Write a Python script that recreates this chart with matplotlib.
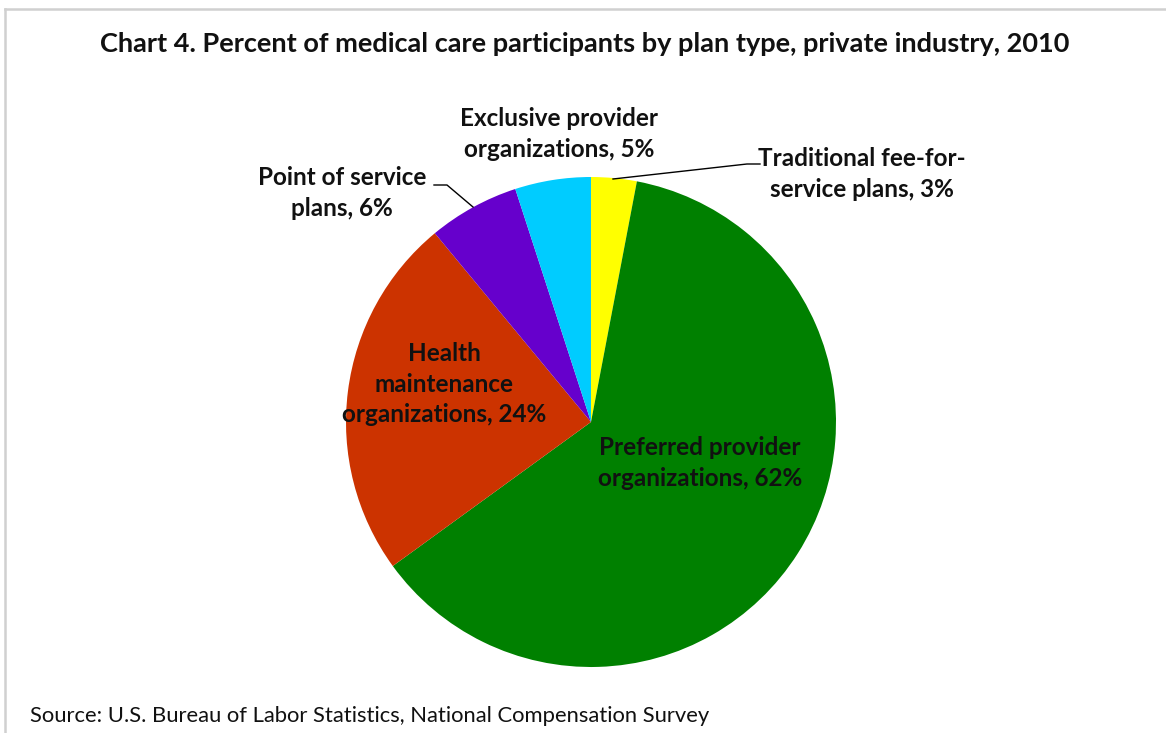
import matplotlib.pyplot as plt
from matplotlib.lines import Line2D

# data
labels = ['Traditional fee-for-\nservice plans, 3%',
          'Preferred provider\norganizations, 62%',
          'Health\nmaintenance\norganizations, 24%',
          'Point of service\nplans, 6%',
          'Exclusive provider\norganizations, 5%']
shares = [3, 62, 24, 6, 5]
colors = ['#FFFF00', '#008000', '#CC3300', '#6600CC', '#00CCFF']

W, H = 1166, 733
plt.rcParams['font.family'] = ['Lato', 'DejaVu Sans']

fig = plt.figure(figsize=(W / 100, H / 100), dpi=100)

def fx(px):
    return px / W

def fy(py):
    return 1 - py / H

# pie axes: centre (591, 422), radius 245 px
cx, cy, r = 591, 422, 245
ax = fig.add_axes([fx(cx - r), fy(cy + r), 2 * r / W, 2 * r / H])
ax.pie(shares, colors=colors, startangle=90, counterclock=False,
       wedgeprops=dict(linewidth=0))
ax.set_xlim(-1, 1)
ax.set_ylim(-1, 1)
ax.set_aspect('auto')
ax.axis('off')

# border (top and left visible)
fig.add_artist(Line2D([fx(5), fx(W + 5)], [fy(8.5), fy(8.5)], color='#D0D0D0', lw=1.8))
fig.add_artist(Line2D([fx(5), fx(5)], [fy(8.5), fy(H + 5)], color='#D0D0D0', lw=1.8))

fig.text(fx(585), fy(44), 'Chart 4. Percent of medical care participants by plan type, private industry, 2010',
         ha='center', va='center', fontsize=19.5, fontweight='bold', color='#111111')

lab_pos = [(862, 174), (700, 463), (444, 384), (342, 193), (559, 134)]
for lab, (px, py) in zip(labels, lab_pos):
    fig.text(fx(px), fy(py), lab, ha='center', va='center', fontsize=17.5,
             fontweight='bold', color='#111111', linespacing=1.4)

# leader lines
fig.add_artist(Line2D([fx(613), fx(747), fx(760)], [fy(179), fy(164), fy(164)], color='black', lw=1))
fig.add_artist(Line2D([fx(434), fx(447), fx(473)], [fy(185), fy(185), fy(207)], color='black', lw=1))

fig.text(fx(30), fy(716), 'Source: U.S. Bureau of Labor Statistics, National Compensation Survey',
         ha='left', va='center', fontsize=15.8, color='#111111')

fig.savefig('out.png', dpi=100)
